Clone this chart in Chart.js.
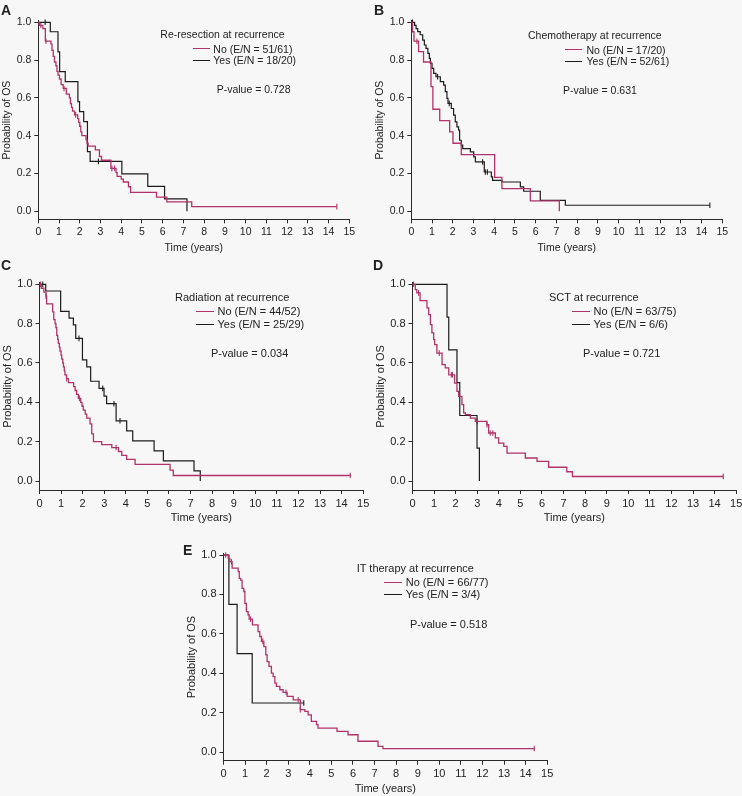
<!DOCTYPE html>
<html><head><meta charset="utf-8">
<script src="https://cdn.jsdelivr.net/npm/chart.js@4.4.1/dist/chart.umd.min.js"></script>
<style>
html,body{margin:0;padding:0;background:#f7f7f7;overflow:hidden;}
#wrap{position:relative;width:742px;height:796px;overflow:hidden;background:#f7f7f7;font-family:"Liberation Sans",Arial,Helvetica,sans-serif;color:#222;}
#wrap canvas{position:absolute;}
.t{position:absolute;white-space:nowrap;}
.sw{position:absolute;height:0;border-top-style:solid;}
</style></head><body><div id="wrap"></div>
<script>
// ---------- tick labels ----------
const xTickValues = [0,1,2,3,4,5,6,7,8,9,10,11,12,13,14,15];
const yTickValues = [0,0.2,0.4,0.6,0.8,1.0];

// ---------- text ----------
const panelLetters = ['A','B','C','D','E'];
const legendTitles = ['Re-resection at recurrence','Chemotherapy at recurrence','Radiation at recurrence','SCT at recurrence','IT therapy at recurrence'];
const noLabels = ['No (E/N = 51/61)','No (E/N = 17/20)','No (E/N = 44/52)','No (E/N = 63/75)','No (E/N = 66/77)'];
const yesLabels = ['Yes (E/N = 18/20)','Yes (E/N = 52/61)','Yes (E/N = 25/29)','Yes (E/N = 6/6)','Yes (E/N = 3/4)'];
const pValues = ['P-value = 0.728','P-value = 0.631','P-value = 0.034','P-value = 0.721','P-value = 0.518'];

// ---------- A: re-resection ----------
const aNoTime = [0,0.05,0.22,0.34,0.61,0.66,0.72,0.78,0.85,0.90,0.95,1.02,1.10,1.20,1.35,1.50,1.55,1.60,1.65,1.75,1.90,1.95,2.00,2.05,2.10,2.30,2.35,2.40,2.75,2.95,3.05,3.50,3.75,3.80,4.00,4.10,4.35,4.45,5.70,6.20,7.40];
const aNoSurv = [1,0.984,0.967,0.90,0.885,0.852,0.82,0.79,0.77,0.74,0.72,0.70,0.67,0.65,0.62,0.60,0.57,0.55,0.53,0.51,0.49,0.47,0.45,0.42,0.40,0.38,0.36,0.345,0.325,0.29,0.27,0.227,0.205,0.185,0.17,0.155,0.13,0.10,0.075,0.05,0.025];
const aNoCensor = [0.12,0.37,1.24,1.80,3.55,3.68,14.4];
const aYesTime = [0,0.58,0.95,1.03,1.30,1.91,1.99,2.19,2.37,2.50,4.03,5.28,6.09,7.17];
const aYesSurv = [1,0.95,0.844,0.739,0.686,0.580,0.527,0.475,0.316,0.264,0.198,0.132,0.066,0];
const aYesCensor = [0.33,2.90];

// ---------- B: chemotherapy ----------
const bNoTime = [0,0.06,0.13,0.35,0.59,0.95,1.04,1.37,1.85,2.01,2.41,4.02,4.37,5.74,7.14];
const bNoSurv = [1,0.95,0.90,0.845,0.79,0.66,0.54,0.48,0.42,0.36,0.30,0.18,0.12,0.055,0];
const bNoCensor = [0.27];
const bYesTime = [0,0.16,0.23,0.31,0.43,0.55,0.63,0.71,0.80,0.87,0.92,1.00,1.08,1.19,1.40,1.56,1.64,1.72,1.77,1.93,2.04,2.12,2.20,2.28,2.33,2.41,2.48,2.85,3.01,3.09,3.52,3.86,3.92,4.37,5.26,5.42,6.22,7.43];
const bYesSurv = [1,0.984,0.967,0.951,0.934,0.906,0.88,0.862,0.836,0.809,0.783,0.756,0.73,0.712,0.686,0.668,0.633,0.597,0.571,0.544,0.509,0.473,0.447,0.429,0.376,0.35,0.332,0.314,0.288,0.261,0.208,0.182,0.164,0.155,0.129,0.106,0.058,0.032];
const bYesCensor = [0.06,1.27,1.83,3.44,3.57,3.67,14.4];

// ---------- C: radiation ----------
const cNoTime = [0,0.08,0.2,0.3,0.33,0.61,0.66,0.72,0.76,0.80,0.84,0.87,0.92,0.95,1.0,1.03,1.08,1.11,1.15,1.18,1.25,1.34,1.58,1.65,1.72,1.8,1.91,1.97,2.03,2.12,2.19,2.34,2.42,2.50,2.88,3.35,3.66,3.81,4.04,4.43,6.05,6.2];
const cNoSurv = [1,0.98,0.96,0.94,0.90,0.86,0.82,0.80,0.78,0.74,0.72,0.70,0.68,0.66,0.64,0.62,0.60,0.58,0.56,0.54,0.52,0.50,0.48,0.46,0.44,0.42,0.40,0.38,0.36,0.34,0.32,0.29,0.24,0.20,0.185,0.17,0.15,0.13,0.11,0.085,0.055,0.028];
const cNoCensor = [0.05,0.3,1.26,1.85,3.55,14.4];
const cYesTime = [0,0.29,0.98,1.37,1.57,1.68,1.99,2.19,2.37,2.76,2.99,3.11,3.55,4.04,4.32,5.31,5.74,7.16,7.45];
const cYesSurv = [1,0.966,0.862,0.828,0.794,0.725,0.616,0.58,0.507,0.471,0.432,0.393,0.306,0.255,0.204,0.153,0.102,0.051,0];
const cYesCensor = [0.15,1.83,2.93,3.45,3.73];

// ---------- D: SCT ----------
const dNoTime = [0,0.13,0.20,0.35,0.67,0.75,0.83,0.90,0.98,1.03,1.13,1.37,1.52,1.68,1.95,2.06,2.14,2.29,2.37,2.45,2.68,2.91,3.45,3.53,3.84,3.99,4.23,4.38,5.23,5.77,6.31,7.15,7.41];
const dNoSurv = [1,0.973,0.956,0.917,0.88,0.846,0.795,0.753,0.719,0.693,0.65,0.592,0.575,0.54,0.498,0.456,0.43,0.388,0.346,0.337,0.32,0.303,0.286,0.244,0.219,0.193,0.176,0.142,0.117,0.10,0.07,0.047,0.023];
const dNoCensor = [0.05,0.28,1.24,1.80,1.85,2.99,3.45,3.60,3.72,14.4];
const dYesTime = [0,1.60,1.68,2.06,2.19,2.99,3.10];
const dYesSurv = [1,0.833,0.667,0.5,0.333,0.167,0];
const dYesCensor = [];

// ---------- E: IT therapy ----------
const eNoTime = [0,0.22,0.29,0.40,0.68,0.73,0.80,0.86,0.94,0.99,1.06,1.14,1.19,1.34,1.60,1.68,1.76,1.87,1.96,2.02,2.11,2.22,2.30,2.38,2.45,2.61,2.76,2.95,3.23,3.56,3.77,3.92,4.07,4.31,4.38,5.26,5.77,6.23,7.16,7.39];
const eNoSurv = [1,0.983,0.966,0.933,0.916,0.882,0.873,0.831,0.815,0.755,0.713,0.696,0.675,0.646,0.612,0.587,0.562,0.536,0.494,0.46,0.435,0.401,0.384,0.351,0.334,0.317,0.304,0.283,0.266,0.216,0.207,0.19,0.157,0.14,0.123,0.106,0.089,0.056,0.03,0.019];
const eNoCensor = [0.1,0.37,1.25,1.82,2.90,3.46,3.56,14.4];
const eYesTime = [0,0.25,0.63,1.33];
const eYesSurv = [1,0.75,0.5,0.25];
const eYesCensor = [3.72];

// ---------- styling / layout ----------
const FONT = '"Liberation Sans", Arial, Helvetica, sans-serif';
const PINK = '#b1336b';
const DARK = '#1c1c1c';
const AXIS = '#2a2a2a';
const TXT = '#222222';

const series = [
  [aNoTime,aNoSurv,aNoCensor,aYesTime,aYesSurv,aYesCensor],
  [bNoTime,bNoSurv,bNoCensor,bYesTime,bYesSurv,bYesCensor],
  [cNoTime,cNoSurv,cNoCensor,cYesTime,cYesSurv,cYesCensor],
  [dNoTime,dNoSurv,dNoCensor,dYesTime,dYesSurv,dYesCensor],
  [eNoTime,eNoSurv,eNoCensor,eYesTime,eYesSurv,eYesCensor]
];

const layouts = [
  {box:[0,0,372,254], area:{left:38.3,right:349.3,y1:22.3,y0:211.3,axis:219.3}, fs:10.5,
   letter:[1,10.5], title:[160.3,34], sw:[192.7,210,49,60.7], entry:213.3, p:[216.7,89]},
  {box:[373.2,0,369,254], area:{left:411.5,right:722.5,y1:22.3,y0:211.3,axis:219.3}, fs:10.5,
   letter:[374,10.5], title:[528,35], sw:[565,582,50,61.7], entry:586.5, p:[563,90]},
  {box:[0,262,380,263], area:{left:39.5,right:363.2,y1:284.3,y0:481,axis:490}, fs:11,
   letter:[1,265], title:[175,298], sw:[196,213.5,312,324.3], entry:217.5, p:[211,354]},
  {box:[373,262,380,263], area:{left:412.5,right:736.2,y1:284.3,y0:481,axis:490}, fs:11,
   letter:[373,265], title:[549,298], sw:[572,589.5,312,324.3], entry:593.5, p:[583,354]},
  {box:[184.2,535,381,261], area:{left:223.7,right:547.4,y1:555,y0:752.3,axis:760.7}, fs:11,
   letter:[183,550], title:[356.7,568.7], sw:[384,402,582.7,595], entry:405.7, p:[410,625]}
];

const wrap = document.getElementById('wrap');

function survAt(times, surv, t){
  let s = surv[0];
  for (let i=0;i<times.length;i++){ if (times[i] <= t) s = surv[i]; }
  return s;
}
function stepPoints(times, surv, censors){
  const pts = times.map((t,i)=>({x:t,y:surv[i]}));
  const lastC = censors.length ? Math.max(...censors) : -1;
  if (lastC > times[times.length-1]) pts.push({x:lastC, y:surv[surv.length-1]});
  return pts;
}
function censorPoints(times, surv, censors){
  return censors.map(t=>({x:t, y:survAt(times,surv,t)}));
}
function addText(txt, left, cy, fs, bold){
  const d = document.createElement('div');
  d.className = 't';
  d.textContent = txt;
  d.style.left = left+'px';
  d.style.top = (cy - fs*0.6)+'px';
  d.style.fontSize = fs+'px';
  d.style.lineHeight = (fs*1.2)+'px';
  if (bold) d.style.fontWeight = 'bold';
  wrap.appendChild(d);
}
function addSwatch(x1, x2, y, color){
  const d = document.createElement('div');
  d.className = 'sw';
  d.style.left = x1+'px';
  d.style.width = (x2-x1)+'px';
  d.style.top = (y-0.65)+'px';
  d.style.borderTopWidth = '1.3px';
  d.style.borderTopColor = color;
  wrap.appendChild(d);
}

function makePanel(k){
  const L = layouts[k];
  const [noT,noS,noC,yesT,yesS,yesC] = series[k];
  const [bx,by,bw,bh] = L.box;
  const c = document.createElement('canvas');
  c.width = bw; c.height = bh;
  c.style.left = bx+'px'; c.style.top = by+'px';
  c.style.width = bw+'px'; c.style.height = bh+'px';
  wrap.appendChild(c);

  const perUnit = L.area.y0 - L.area.y1;
  const yMax = 1.008;
  const yMin = -(L.area.axis - L.area.y0)/perUnit;
  const areaTop = L.area.y1 - (yMax-1)*perUnit;
  const padTop = areaTop - by;
  const padRight = bx + bw - L.area.right;
  const yW = L.area.left - bx;
  const xH = by + bh - L.area.axis;
  const fs = L.fs;

  new Chart(c, {
    type:'line',
    data:{datasets:[
      {label:noLabels[k], data:stepPoints(noT,noS,noC), borderColor:PINK, borderWidth:1.3, stepped:'before', pointRadius:0, fill:false, clip:false},
      {label:yesLabels[k], data:stepPoints(yesT,yesS,yesC), borderColor:DARK, borderWidth:1.2, stepped:'before', pointRadius:0, fill:false, clip:false},
      {label:'censored', data:censorPoints(noT,noS,noC), showLine:false, pointStyle:'line', rotation:90, pointRadius:2.8, pointBorderWidth:1.1, borderColor:PINK, backgroundColor:PINK, clip:false},
      {label:'censored', data:censorPoints(yesT,yesS,yesC), showLine:false, pointStyle:'line', rotation:90, pointRadius:2.8, pointBorderWidth:1.1, borderColor:DARK, backgroundColor:DARK, clip:false}
    ]},
    options:{
      responsive:false, animation:false, devicePixelRatio:1, events:[],
      layout:{padding:{top:padTop,right:padRight,left:0,bottom:0}},
      plugins:{legend:{display:false}, tooltip:{enabled:false}},
      scales:{
        x:{type:'linear', min:0, max:15,
           afterBuildTicks:s=>{ s.ticks = xTickValues.map(v=>({value:v})); },
           afterFit:s=>{ s.height = xH; },
           grid:{drawOnChartArea:false, drawTicks:true, tickLength:4, color:AXIS, lineWidth:1},
           border:{display:true, color:AXIS, width:1},
           ticks:{padding:3, color:TXT, font:{family:FONT,size:fs}, maxRotation:0, autoSkip:false},
           title:{display:true, text:'Time (years)', color:TXT, font:{family:FONT,size:fs}, padding:{top:0,bottom:0}}},
        y:{type:'linear', min:yMin, max:yMax,
           afterBuildTicks:s=>{ s.ticks = yTickValues.map(v=>({value:v})); },
           afterFit:s=>{ s.width = yW; },
           grid:{drawOnChartArea:false, drawTicks:true, tickLength:4, color:AXIS, lineWidth:1},
           border:{display:true, color:AXIS, width:1},
           ticks:{padding:3, color:TXT, font:{family:FONT,size:fs}, autoSkip:false, callback:v=>Number(v).toFixed(1)},
           title:{display:true, text:'Probability of OS', color:TXT, font:{family:FONT,size:fs}, padding:{top:1,bottom:0}}}
      }
    }
  });

  addText(panelLetters[k], L.letter[0], L.letter[1], 14, true);
  addText(legendTitles[k], L.title[0], L.title[1], fs, false);
  addSwatch(L.sw[0], L.sw[1], L.sw[2], PINK);
  addSwatch(L.sw[0], L.sw[1], L.sw[3], DARK);
  addText(noLabels[k], L.entry, L.sw[2], fs, false);
  addText(yesLabels[k], L.entry, L.sw[3], fs, false);
  addText(pValues[k], L.p[0], L.p[1], fs, false);
}

for (let k=0;k<5;k++) makePanel(k);
</script>
</body></html>
